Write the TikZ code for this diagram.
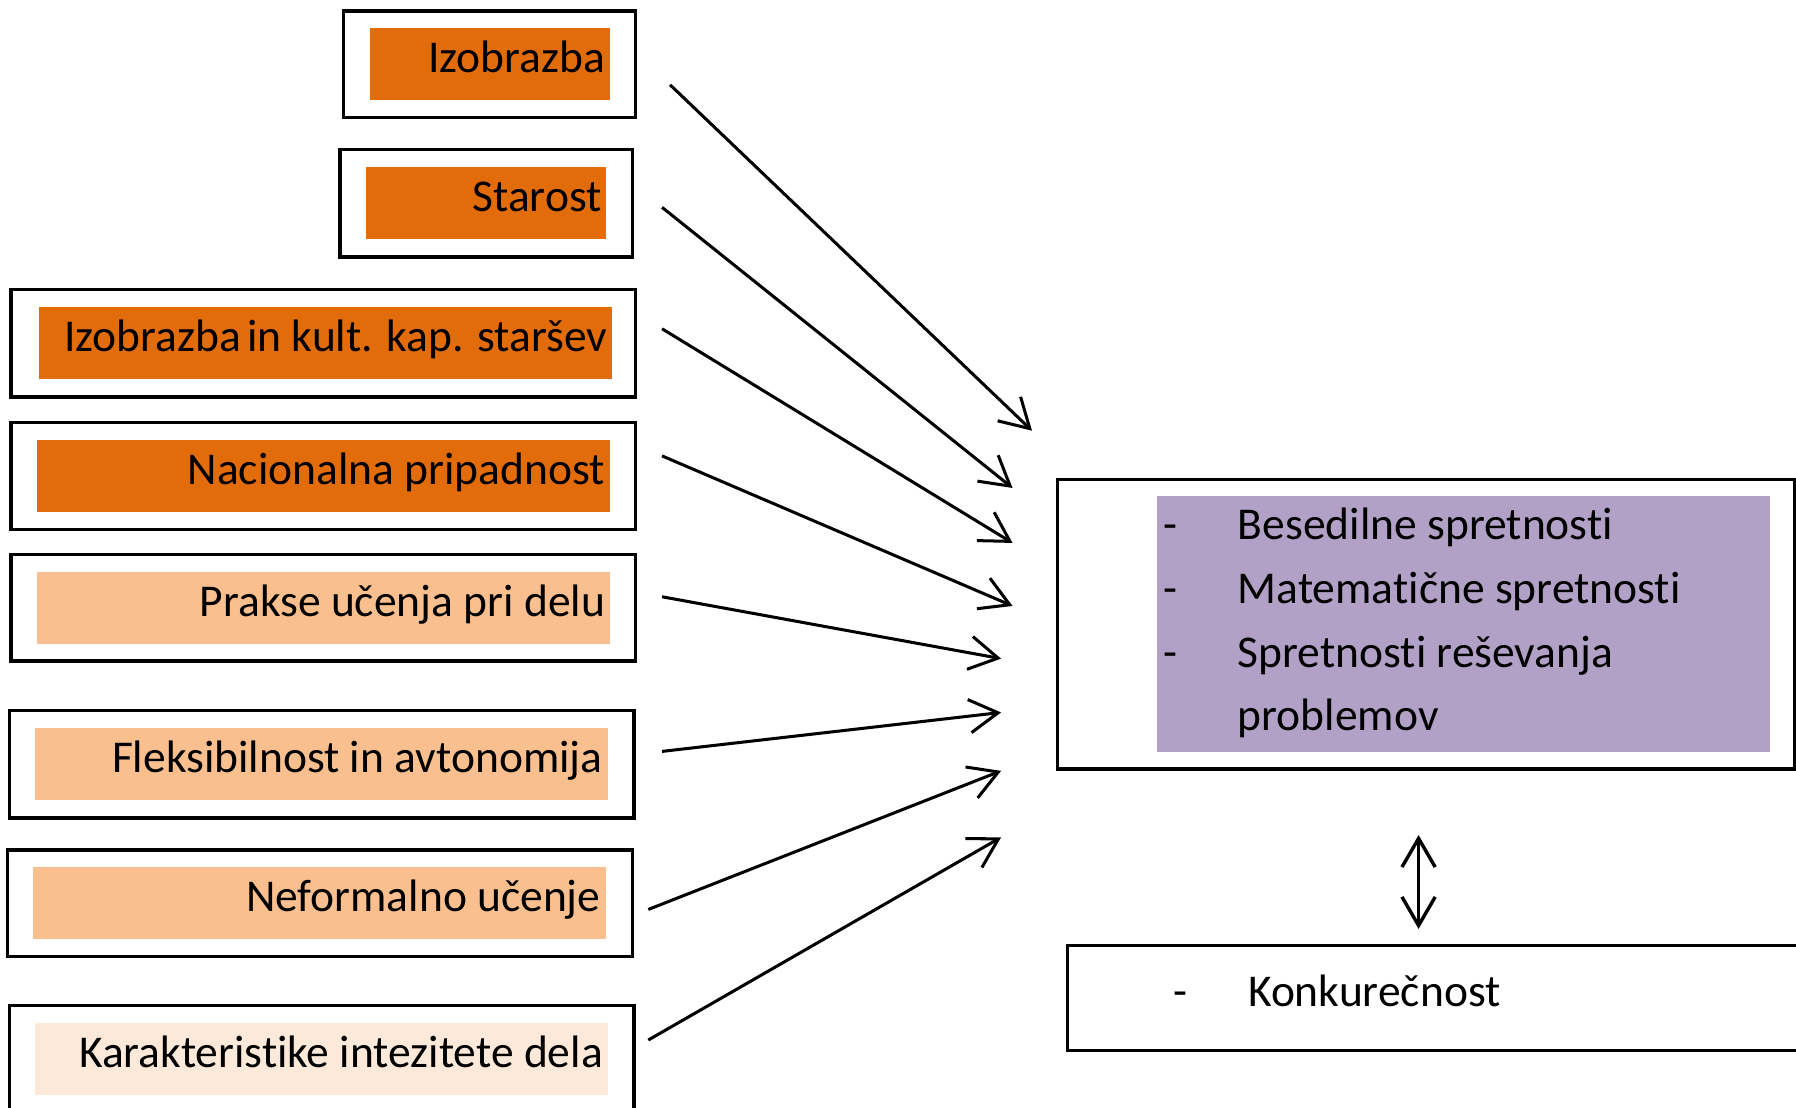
\documentclass[tikz,border=0pt]{standalone}
\usepackage{fontspec}
\setmainfont{Carlito}[Ligatures={NoCommon}]
\usetikzlibrary{arrows.meta,fit}
\definecolor{dorange}{HTML}{E36C0A}
\definecolor{lorange}{HTML}{FABF8F}
\definecolor{vlorange}{HTML}{FDE9D9}
\definecolor{lpurple}{HTML}{B2A1C7}
\begin{document}
\begin{tikzpicture}[x=0.01cm,y=-0.01cm,
  outerbox/.style={draw=black,line width=0.85pt,inner sep=0pt},
  innerbox/.style={draw=none,inner sep=0pt},
  lbl/.style={inner sep=0pt,font=\fontsize{11.3pt}{13.6pt}\selectfont},
  arr/.style={line width=0.75pt,-{Straight Barb[length=2.5mm,width=2.9mm,line width=0.75pt]}},
  darr/.style={line width=0.85pt,{Straight Barb[length=2.5mm,width=2.9mm,line width=0.85pt]}-{Straight Barb[length=2.5mm,width=2.9mm,line width=0.85pt]}}]
\useasboundingbox (0,0) rectangle (1568,967.3);
\clip (0,0) rectangle (1568,967.3);
\fill[white] (0,0) rectangle (1568,967.3);

% left boxes
\node[outerbox, fit={(300,9.5)(555,102.5)}] (o1) {};
\node[innerbox, fill=dorange, fit={(323,24.5)(532.5,87.5)}] (i1) {};
\node[lbl, anchor=base east] (t1) at (529,63) {Izobrazba};

\node[outerbox, fit={(297,130.5)(552,224.5)}] (o2) {};
\node[innerbox, fill=dorange, fit={(319.5,146)(529.5,209)}] (i2) {};
\node[lbl, anchor=base east] (t2) at (526,185) {Starost};

\node[outerbox, fit={(9.5,252.5)(555,346.5)}] (o3) {};
\node[innerbox, fill=dorange, fit={(34,268)(534.5,331)}] (i3) {};
\node[lbl, anchor=base east] (t3) at (531,307) {Izobrazba\hspace{1.5pt}in kult. kap. staršev};

\node[outerbox, fit={(9.5,369)(555,462.5)}] (o4) {};
\node[innerbox, fill=dorange, fit={(32.5,384.5)(532.5,447)}] (i4) {};
\node[lbl, anchor=base east] (t4) at (529,423) {Nacionalna pripadnost};

\node[outerbox, fit={(9.5,484)(555,577)}] (o5) {};
\node[innerbox, fill=lorange, fit={(32.5,499)(532.5,562)}] (i5) {};
\node[lbl, anchor=base east] (t5) at (529,538) {Prakse učenja pri delu};

\node[outerbox, fit={(8.5,620.5)(553.5,714)}] (o6) {};
\node[innerbox, fill=lorange, fit={(30.5,635.5)(531,698)}] (i6) {};
\node[lbl, anchor=base east] (t6) at (527,674) {Fleksibilnost in avtonomija};

\node[outerbox, fit={(6.5,742)(552,835)}] (o7) {};
\node[innerbox, fill=lorange, fit={(29,757)(529,819.5)}] (i7) {};
\node[lbl, anchor=base east] (t7) at (525,795.5) {Neformalno učenje};

\node[outerbox, fit={(8.5,878)(553.5,1000)}] (o8) {};
\node[innerbox, fill=vlorange, fit={(30.5,893.5)(531,956)}] (i8) {};
\node[lbl, anchor=base east] (t8) at (527,932) {Karakteristike intezitete dela};

% right boxes
\node[outerbox, fit={(923,418.5)(1566.5,671.5)}] (r1) {};
\node[innerbox, fill=lpurple, fit={(1010.5,433)(1545.5,656.5)}] (p1) {};
\node[lbl, anchor=base west] (d1) at (1015,471) {-};
\node[lbl, anchor=base west] (s1t) at (1080,471) {Besedilne spretnosti};
\node[lbl, anchor=base west] (d2) at (1015,527) {-};
\node[lbl, anchor=base west] (s2t) at (1080,527) {Matematične spretnosti};
\node[lbl, anchor=base west] (d3) at (1015,582.5) {-};
\node[lbl, anchor=base west] (s3t) at (1080,582.5) {Spretnosti reševanja};
\node[lbl, anchor=base west] (s4t) at (1080,638) {problemov};

\node[outerbox, fit={(932,825.5)(1590,917)}] (r2) {};
\node[lbl, anchor=base west] (d4) at (1024,878.5) {-};
\node[lbl, anchor=base west] (k1) at (1089,878.5) {Konkurečnost};

% arrows
\coordinate (a1s) at (585,74);  \coordinate (a1e) at (901,376);
\coordinate (a2s) at (578,181); \coordinate (a2e) at (884,426);
\coordinate (a3s) at (578,287); \coordinate (a3e) at (884,474);
\coordinate (a4s) at (578,398); \coordinate (a4e) at (884,529);
\coordinate (a5s) at (578,521); \coordinate (a5e) at (874,575);
\coordinate (a6s) at (578,656); \coordinate (a6e) at (874,622);
\coordinate (a7s) at (566,794); \coordinate (a7e) at (874,673);
\coordinate (a8s) at (566,908); \coordinate (a8e) at (874,731);
\foreach \i in {1,...,8} { \draw[arr] (a\i s) -- (a\i e); }

\coordinate (dtop) at (1238.5,729);
\coordinate (dbot) at (1238.5,811);
\draw[darr] (dtop) -- (dbot);
\end{tikzpicture}
\end{document}
